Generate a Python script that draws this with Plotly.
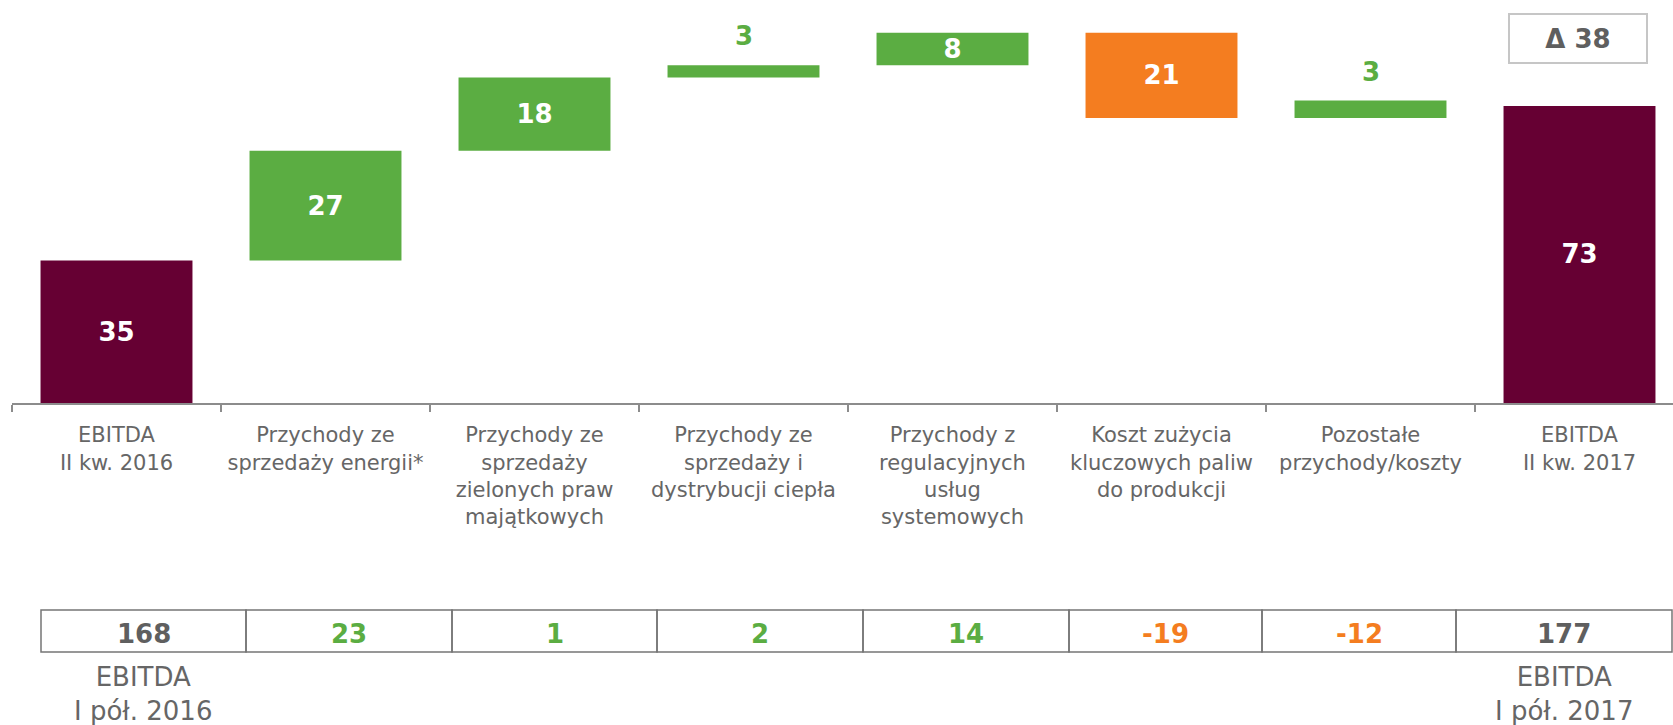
import plotly.graph_objects as go

# ---------------- data ----------------
categories = [
    "EBITDA<br>II kw. 2016",
    "Przychody ze<br>sprzedaży energii*",
    "Przychody ze<br>sprzedaży<br>zielonych praw<br>majątkowych",
    "Przychody ze<br>sprzedaży i<br>dystrybucji ciepła",
    "Przychody z<br>regulacyjnych<br>usług<br>systemowych",
    "Koszt zużycia<br>kluczowych paliw<br>do produkcji",
    "Pozostałe<br>przychody/koszty",
    "EBITDA<br>II kw. 2017",
]
measures = ["absolute", "relative", "relative", "relative",
            "relative", "relative", "relative", "absolute"]
# bar sizes as drawn in the picture (labels below are the printed values)
q2_values = [35, 27, 18, 3, 8, -21, 4.3, 73]
q2_labels = ["35", "27", "18", "3", "8", "21", "3", "73"]
half_year_values = [168, 23, 1, 2, 14, -19, -12, 177]
half_year_kind = ["total", "up", "up", "up", "up", "down", "down", "total"]
delta_label = "Δ 38"
half_year_captions = ["EBITDA<br>I pół. 2016", "EBITDA<br>I pół. 2017"]

# ---------------- style ----------------
MAROON = "#660033"
GREEN = "#5BAD42"
ORANGE = "#F47D20"
GRAY_TXT = "#666666"
DARK_TXT = "#5f5f5f"
AXIS = "#8c8c8c"
TABLE_LINE = "#767676"
FONT = "DejaVu Sans"
W, H = 1673, 725
outside_idx = [3, 6]          # small bars whose label sits above the bar
table_left, table_top, table_bottom = 41, 610, 652
table_col_widths = [205, 206, 205, 206, 206, 193, 194, 216]

bar_text = ["" if i in outside_idx else t for i, t in enumerate(q2_labels)]

fig = go.Figure()
fig.add_trace(go.Waterfall(
    x=categories,
    y=q2_values,
    measure=measures,
    text=bar_text,
    textposition="inside",
    insidetextanchor="middle",
    textangle=0,
    constraintext="none",
    textfont=dict(family=FONT, size=26, color="white", weight="bold"),
    increasing=dict(marker=dict(color=GREEN)),
    decreasing=dict(marker=dict(color=ORANGE)),
    totals=dict(marker=dict(color=MAROON)),
    connector=dict(visible=False),
    width=0.727,
    hoverinfo="skip",
    cliponaxis=False,
))

# labels above the small bars (positioned from the running total)
running = 0
tops = []
for m, v in zip(measures, q2_values):
    if m == "absolute":
        running = v
        tops.append(v)
    else:
        tops.append(max(running, running + v))
        running += v
for i in outside_idx:
    fig.add_annotation(
        x=categories[i], y=tops[i], xref="x", yref="y",
        text="<b>%s</b>" % q2_labels[i], showarrow=False,
        yshift=29, yanchor="middle",
        font=dict(family=FONT, size=26, color=GREEN),
    )

# bottom table of half-year values
col_colors = [{"total": DARK_TXT, "up": GREEN, "down": ORANGE}[k] for k in half_year_kind]
x0 = table_left
for v, cw, col in zip(half_year_values, table_col_widths, col_colors):
    x1 = min(x0 + cw, W - 1)
    fig.add_shape(type="rect", xref="paper", yref="paper",
                  x0=x0 / W, x1=x1 / W,
                  y0=(H - table_bottom) / H, y1=(H - table_top) / H,
                  line=dict(color=TABLE_LINE, width=1.5), fillcolor="rgba(0,0,0,0)")
    fig.add_annotation(x=(x0 + x1) / 2 / W, y=(H - 634) / H,
                       xref="paper", yref="paper", text="<b>%d</b>" % v,
                       showarrow=False, xanchor="center", yanchor="middle",
                       font=dict(family=FONT, size=26, color=col))
    x0 = x1

# captions under the table
for cx, cap in zip([143, 1564], half_year_captions):
    fig.add_annotation(x=cx / W, y=(H - 694) / H, xref="paper", yref="paper",
                       text=cap, showarrow=False,
                       font=dict(family=FONT, size=26, color=GRAY_TXT),
                       align="center", xanchor="center", yanchor="middle")

# delta box
fig.add_annotation(x=1578 / W, y=(H - 38) / H, xref="paper", yref="paper",
                   text="<b>%s</b>" % delta_label, showarrow=False,
                   font=dict(family=FONT, size=26, color=DARK_TXT),
                   bordercolor="#c6c6c6", borderwidth=2, borderpad=0,
                   width=136, height=47, bgcolor="white",
                   xanchor="center", yanchor="middle")

fig.update_layout(
    width=W, height=H,
    margin=dict(l=0, r=0, t=0, b=0),
    paper_bgcolor="white", plot_bgcolor="white",
    showlegend=False,
    font=dict(family=FONT, color=GRAY_TXT),
    xaxis=dict(
        domain=[12 / W, 1],
        type="category",
        range=[-0.5, -0.5 + (W - 12) / 209.0],
        showline=True, linecolor=AXIS, linewidth=2,
        ticks="outside", tickson="boundaries", ticklen=7,
        tickcolor=AXIS, tickwidth=2,
        showgrid=False, zeroline=False,
        tickfont=dict(family=FONT, size=21, color=GRAY_TXT),
        ticklabelstandoff=12,
        fixedrange=True,
    ),
    yaxis=dict(
        domain=[(H - 403) / H, 1],
        range=[0, 403 / 4.07],
        visible=False, showgrid=False, zeroline=False,
        fixedrange=True,
    ),
)

fig.write_html("out.html", post_script="document.body.style.margin='0';",
               config={"displayModeBar": False})
